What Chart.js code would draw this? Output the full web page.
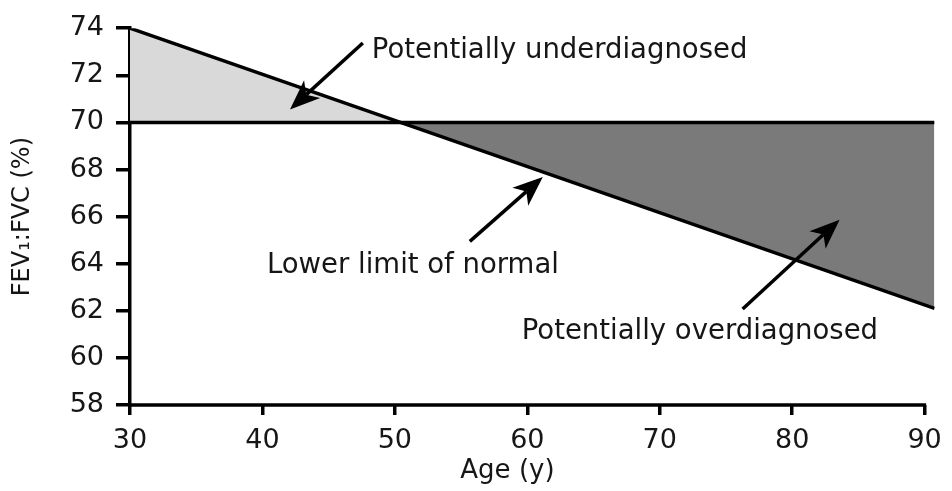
<!DOCTYPE html>
<html>
<head>
<meta charset="utf-8">
<script src="https://cdn.jsdelivr.net/npm/chart.js@4.4.0/dist/chart.umd.min.js"></script>
<style>
  html, body { margin: 0; padding: 0; background: #fff; }
  #wrap { width: 952px; height: 491px; }
</style>
</head>
<body>
<div id="wrap"><canvas id="fevcanvas" width="952" height="491"></canvas></div>
<script>
// lower limit of normal vs fixed 70% ratio
var ages = [30, 90.75];
var lowerLimit = [74, 62.1];
var fixedRatio = [70, 70];
var xTicks = [30, 40, 50, 60, 70, 80, 90];
var yTicks = [58, 60, 62, 64, 66, 68, 70, 72, 74];

// annotation texts and arrows, in data units
var noteText = ["Potentially underdiagnosed", "Lower limit of normal", "Potentially overdiagnosed"];
var noteAt = [[48.26, 72.74], [40.34, 63.6], [59.58, 60.82]];
var arrowFrom = [[47.58, 73.37], [55.66, 64.95], [76.26, 62.08]];
var arrowTo = [[42.08, 70.55], [61.17, 67.68], [83.58, 65.87]];

var FONT = "'DejaVu Sans', sans-serif";
var INK = "#161616";

function pts(xs, ys) {
	return xs.map(function(x, i){ return {x: x, y: ys[i]}; });
}

var notesPlugin = {
	id: 'notes',
	afterDraw: function(chart) {
		var ctx = chart.ctx;
		var xs = chart.scales.x, ys = chart.scales.y;
		ctx.save();
		// x axis line, only up to 90
		ctx.strokeStyle = "#000";
		ctx.lineWidth = 3.5;
		ctx.beginPath();
		ctx.moveTo(xs.getPixelForValue(30) - 1.5, ys.bottom);
		ctx.lineTo(xs.getPixelForValue(90) + 1.5, ys.bottom);
		ctx.stroke();

		// arrows
		for (var i = 0; i < arrowFrom.length; i++) {
			var x0 = xs.getPixelForValue(arrowFrom[i][0]), y0 = ys.getPixelForValue(arrowFrom[i][1]);
			var x1 = xs.getPixelForValue(arrowTo[i][0]), y1 = ys.getPixelForValue(arrowTo[i][1]);
			var a = Math.atan2(y1 - y0, x1 - x0);
			var c = Math.cos(a), s = Math.sin(a);
			var hl = 30, hw = 12;
			var bx = x1 - hl * c, by = y1 - hl * s;
			ctx.lineWidth = 3.5;
			ctx.beginPath();
			ctx.moveTo(x0, y0);
			ctx.lineTo(bx + 8 * c, by + 8 * s);
			ctx.stroke();
			ctx.fillStyle = "#000";
			ctx.beginPath();
			ctx.moveTo(x1, y1);
			ctx.lineTo(bx - hw * s, by + hw * c);
			ctx.lineTo(bx + 8 * c, by + 8 * s);
			ctx.lineTo(bx + hw * s, by - hw * c);
			ctx.closePath();
			ctx.fill();
		}

		// texts
		ctx.fillStyle = INK;
		ctx.font = "27.5px " + FONT;
		ctx.textAlign = "left";
		ctx.textBaseline = "alphabetic";
		for (var j = 0; j < noteText.length; j++) {
			ctx.fillText(noteText[j], xs.getPixelForValue(noteAt[j][0]), ys.getPixelForValue(noteAt[j][1]));
		}

		// x axis title
		ctx.font = "26px " + FONT;
		ctx.textAlign = "center";
		ctx.textBaseline = "middle";
		ctx.fillText("Age (y)", xs.getPixelForValue(58.5), 471);
		ctx.restore();
	}
};

var ctx = document.getElementById("fevcanvas").getContext("2d");
window.fevChart = new Chart(ctx, {
	type: 'line',
	data: {
		datasets: [
			{
				label: "Lower limit of normal",
				data: pts(ages, lowerLimit),
				borderColor: "#000",
				borderWidth: 3.5,
				pointRadius: 0,
				order: 1,
				fill: {target: {value: 70}, above: "#d9d9d9", below: "#7a7a7a"}
			},
			{
				label: "FEV1:FVC 70%",
				data: pts(ages, fixedRatio),
				borderColor: "#000",
				borderWidth: 3.5,
				pointRadius: 0,
				order: 0,
				fill: false
			}
		]
	},
	options: {
		responsive: false,
		animation: false,
		layout: { padding: {left: 0, top: 25, right: 17, bottom: 0} },
		plugins: {
			legend: { display: false },
			tooltip: { enabled: false }
		},
		scales: {
			x: {
				type: 'linear',
				min: 30,
				max: 90.75,
				afterFit: function(s){ s.height = 86; },
				afterBuildTicks: function(s){ s.ticks = xTicks.map(function(v){ return {value: v}; }); },
				border: { display: false },
				grid: { drawOnChartArea: false, drawTicks: true, tickLength: 10, lineWidth: 3.5, color: "#000" },
				ticks: { padding: 10, color: INK, font: {family: FONT, size: 27} }
			},
			y: {
				min: 58,
				max: 74,
				afterFit: function(s){ s.width = 130; },
				afterBuildTicks: function(s){ s.ticks = yTicks.map(function(v){ return {value: v}; }); },
				border: { display: true, color: "#000", width: 3.5 },
				grid: { drawOnChartArea: false, drawTicks: true, tickLength: 14, lineWidth: 3.5, color: "#000" },
				ticks: { padding: 12, color: INK, font: {family: FONT, size: 27} },
				title: { display: true, text: "FEV\u2081:FVC (%)", color: INK, font: {family: FONT, size: 24}, padding: {top: 8, bottom: 0} }
			}
		}
	},
	plugins: [notesPlugin]
});
</script>
</body>
</html>
